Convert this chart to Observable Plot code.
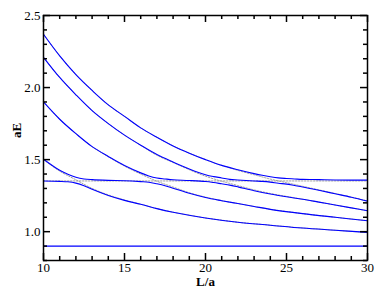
<!DOCTYPE html>
<html><head><meta charset="utf-8">
<script src="https://cdn.jsdelivr.net/npm/d3@7"></script>
<script src="https://cdn.jsdelivr.net/npm/@observablehq/plot@0.6"></script>
<style>body{margin:0;background:#fff} #chart svg{display:block}</style>
</head><body><div id="chart"></div><script>
// Tick values
const xMajor = [10, 15, 20, 25, 30];
const xMinor = [11,12,13,14,16,17,18,19,21,22,23,24,26,27,28,29];
const yMajor = [1.0, 1.5, 2.0, 2.5];
const yMinor = [0.8,0.9,1.1,1.2,1.3,1.4,1.6,1.7,1.8,1.9,2.1,2.2,2.3,2.4];

// Free (non-interacting) levels, gray dotted
const Lf = [10,11,12,13,14,15,16,17,18,19,20,21,22,23,24,25,26,27,28,29,30];
const F1 = [1.50,1.42,1.36,1.30,1.255,1.22,1.19,1.16,1.135,1.115,1.095,1.08,1.065,1.055,1.045,1.035,1.025,1.018,1.01,1.002,0.995];
const F2 = [1.90,1.78,1.68,1.59,1.52,1.455,1.40,1.35,1.31,1.27,1.24,1.215,1.195,1.175,1.155,1.14,1.125,1.112,1.10,1.088,1.076];
const F3 = [2.21,2.07,1.95,1.84,1.75,1.67,1.60,1.53,1.48,1.43,1.385,1.35,1.32,1.29,1.265,1.245,1.225,1.205,1.185,1.165,1.145];
const F4 = [2.37,2.22,2.09,1.98,1.88,1.80,1.72,1.655,1.595,1.545,1.50,1.46,1.425,1.395,1.365,1.34,1.315,1.29,1.265,1.24,1.213];
const Lc = [10, 30];
const Fc = [1.352, 1.352];

// Interacting levels, blue
const L0 = [10, 30];
const E0 = [0.9, 0.9];
const L1 = [10,11,11.5,12,12.5,13,14,15,16,17,18,20,22,24,26,28,30];
const E1 = [1.352,1.349,1.346,1.337,1.319,1.294,1.251,1.217,1.19,1.16,1.135,1.095,1.065,1.045,1.025,1.01,0.995];
const L2 = [10,11,11.5,12,12.5,13,14,15,16,16.5,17,17.5,18,19,20,21,22,23,24,26,28,30];
const E2 = [1.503,1.426,1.399,1.378,1.366,1.361,1.356,1.353,1.347,1.343,1.332,1.319,1.302,1.266,1.237,1.215,1.195,1.175,1.155,1.125,1.10,1.076];
const L3 = [10,11,12,13,14,15,16,16.5,17,17.5,18,19,20,20.5,21,21.5,22,23,24,25,26,27,28,29,30];
const E3 = [1.90,1.78,1.68,1.59,1.522,1.459,1.408,1.387,1.373,1.366,1.36,1.355,1.348,1.341,1.332,1.323,1.311,1.284,1.261,1.242,1.225,1.205,1.185,1.165,1.145];
const L4 = [10,11,12,13,14,15,16,17,18,19,20,20.5,21,21.5,22,23,23.5,24,24.5,25,25.5,26,27,28,29,30];
const E4 = [2.21,2.07,1.95,1.84,1.75,1.67,1.60,1.535,1.483,1.435,1.395,1.382,1.373,1.363,1.359,1.352,1.349,1.344,1.336,1.33,1.32,1.31,1.287,1.263,1.239,1.212];
const L5 = [10,11,12,13,14,15,16,17,18,19,20,21,22,23,23.5,24,24.5,25,25.5,26,27,28,29,30];
const E5 = [2.37,2.22,2.09,1.98,1.88,1.80,1.72,1.655,1.595,1.545,1.50,1.46,1.43,1.403,1.391,1.381,1.373,1.369,1.366,1.363,1.361,1.359,1.358,1.358];

const rows = (name, Ls, Es) => Ls.map((L, i) => ({series: name, L, E: Es[i]}));
const free = [...rows("f1", Lf, F1), ...rows("f2", Lf, F2), ...rows("f3", Lf, F3), ...rows("f4", Lf, F4), ...rows("fc", Lc, Fc)];
const levels = [...rows("e0", L0, E0), ...rows("e1", L1, E1), ...rows("e2", L2, E2), ...rows("e3", L3, E3), ...rows("e4", L4, E4), ...rows("e5", L5, E5)];

const W = 387, H = 299, mL = 43, mR = 20, mT = 15, mB = 39;
const fw = W - mL - mR, fh = H - mT - mB;
const serif = "'Liberation Serif', 'Times New Roman', serif";

// inward ticks on all four sides (tick marks inset so only a short stub remains)
const tickStyle = {stroke: "black", strokeWidth: 1.5};
const ticksX = (vals, len) => [
  Plot.tickX(vals, {x: d => d, ...tickStyle, insetTop: fh - len}),
  Plot.tickX(vals, {x: d => d, ...tickStyle, insetBottom: fh - len})
];
const ticksY = (vals, len) => [
  Plot.tickY(vals, {y: d => d, ...tickStyle, insetRight: fw - len}),
  Plot.tickY(vals, {y: d => d, ...tickStyle, insetLeft: fw - len})
];

const chart = Plot.plot({
  width: W, height: H,
  marginLeft: mL, marginRight: mR, marginTop: mT, marginBottom: mB,
  style: {fontFamily: serif, fontSize: "13px"},
  x: {domain: [10, 30]},
  y: {domain: [0.8, 2.5]},
  marks: [
    Plot.line(free, {x: "L", y: "E", z: "series", stroke: "#a0a0a0", strokeWidth: 1, strokeDasharray: "1.5,1.5", curve: "catmull-rom"}),
    Plot.line(levels, {x: "L", y: "E", z: "series", stroke: "blue", strokeWidth: 1.1, curve: "catmull-rom"}),
    Plot.frame({stroke: "black", strokeWidth: 1.5}),
    Plot.axisX(xMajor, {anchor: "bottom", tickSize: 0, tickPadding: 2, label: null, fontSize: 13, fontFamily: serif}),
    Plot.axisY(yMajor, {anchor: "left", tickSize: 0, tickPadding: 3, label: null, fontSize: 13, fontFamily: serif, tickFormat: d3.format(".1f")}),
    Plot.text(["aE"], {frameAnchor: "left", rotate: -90, dx: -27, fontWeight: "bold", fontSize: 13, fontFamily: serif}),
    Plot.text(["L/a"], {frameAnchor: "bottom", dy: 25, fontWeight: "bold", fontSize: 13, fontFamily: serif}),
    ...ticksX(xMajor, 7),
    ...ticksX(xMinor, 4),
    ...ticksY(yMajor, 7),
    ...ticksY(yMinor, 4)
  ]
});
document.getElementById("chart").appendChild(chart);
</script></body></html>
